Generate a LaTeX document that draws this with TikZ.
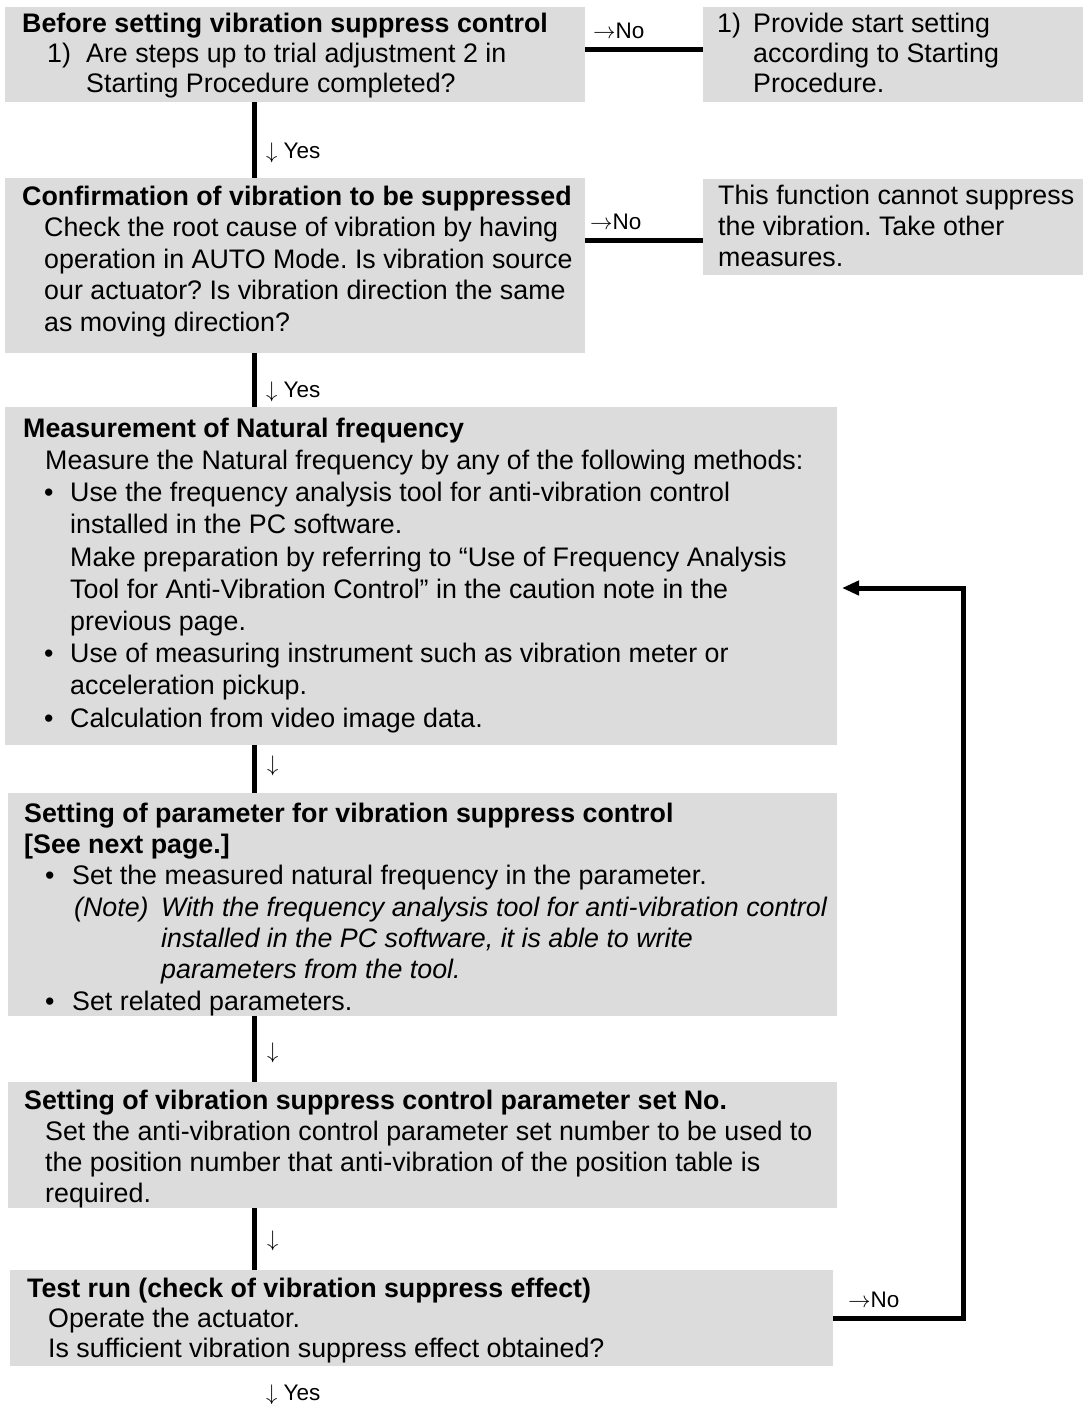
\RequirePackage{fix-cm}
\documentclass[tikz,border=0pt]{standalone}
\usepackage{fontspec}
\setmainfont{Liberation Sans}
\usetikzlibrary{arrows.meta}
\definecolor{boxgrey}{RGB}{220,220,220}
\frenchspacing

\begin{document}
\begin{tikzpicture}[x=1pt, y=-1pt,
    panel/.style={fill=boxgrey, inner sep=0pt, anchor=north west},
    txt/.style={anchor=base west, align=left, inner sep=0pt, font=\fontsize{26.8}{#1}\selectfont},
    txt/.default=31,
    tag/.style={anchor=base west, inner sep=0pt, font=\fontsize{22.5}{27}\selectfont},
    flow/.style={line width=5pt},
]
\useasboundingbox (0,0) rectangle (1083,1404);

% grey panels
\node[panel, minimum width=580pt, minimum height=95pt] (q1) at (5,7) {};
\node[panel, minimum width=380pt, minimum height=95pt] (n1) at (703,7) {};
\node[panel, minimum width=580pt, minimum height=175pt] (q2) at (5,178) {};
\node[panel, minimum width=380pt, minimum height=96pt] (n2) at (703,179) {};
\node[panel, minimum width=832pt, minimum height=338pt] (m3) at (5,407) {};
\node[panel, minimum width=829pt, minimum height=223pt] (p4) at (8,793) {};
\node[panel, minimum width=829pt, minimum height=126pt] (s5) at (8,1082) {};
\node[panel, minimum width=823pt, minimum height=96pt] (t6) at (10,1270) {};

% texts (placed at the baseline of their last line)
\node[txt=30] (q1txt) at (22,93) {\textbf{Before setting vibration suppress control}\\
  \hspace*{25pt}\makebox[39pt][l]{1)}Are steps up to trial adjustment 2 in\\
  \hspace*{64pt}Starting Procedure completed?};
\node[txt=30] (n1txt) at (717,93) {\makebox[36pt][l]{1)}Provide start setting\\
  \hspace*{36pt}according to Starting\\
  \hspace*{36pt}Procedure.};
\node[txt=31.5] (q2txt) at (22,331) {\textbf{Confirmation of vibration to be suppressed}\\
  \hspace*{22pt}Check the root cause of vibration by having\\
  \hspace*{22pt}operation in AUTO Mode. Is vibration source\\
  \hspace*{22pt}our actuator? Is vibration direction the same\\
  \hspace*{22pt}as moving direction?};
\node[txt=31] (n2txt) at (718,267) {This function cannot suppress\\
  the vibration. Take other\\
  measures.};
\node[txt=32.2] (m3txt) at (23,727) {\textbf{Measurement of Natural frequency}\\
  \hspace*{22pt}Measure the Natural frequency by any of the following methods:\\
  \hspace*{21pt}\makebox[26pt][l]{\textbullet}Use the frequency analysis tool for anti-vibration control\\
  \hspace*{47pt}installed in the PC software.\\
  \hspace*{47pt}Make preparation by referring to “Use of Frequency Analysis\\
  \hspace*{47pt}Tool for Anti-Vibration Control” in the caution note in the\\
  \hspace*{47pt}previous page.\\
  \hspace*{21pt}\makebox[26pt][l]{\textbullet}Use of measuring instrument such as vibration meter or\\
  \hspace*{47pt}acceleration pickup.\\
  \hspace*{21pt}\makebox[26pt][l]{\textbullet}Calculation from video image data.};
\node[txt=31.3] (p4txt) at (24,1010) {\textbf{Setting of parameter for vibration suppress control}\\
  \textbf{[See next page.]}\\
  \hspace*{21pt}\makebox[27pt][l]{\textbullet}Set the measured natural frequency in the parameter.\\
  \hspace*{50pt}\makebox[87pt][l]{\textit{(Note)}}\textit{With the frequency analysis tool for anti-vibration control}\\
  \hspace*{137pt}\textit{installed in the PC software, it is able to write}\\
  \hspace*{137pt}\textit{parameters from the tool.}\\
  \hspace*{21pt}\makebox[27pt][l]{\textbullet}Set related parameters.};
\node[txt=30.7] (s5txt) at (24,1202) {\textbf{Setting of vibration suppress control parameter set No.}\\
  \hspace*{21pt}Set the anti-vibration control parameter set number to be used to\\
  \hspace*{21pt}the position number that anti-vibration of the position table is\\
  \hspace*{21pt}required.};
\node[txt=30] (t6txt) at (27,1357) {\textbf{Test run (check of vibration suppress effect)}\\
  \hspace*{21pt}Operate the actuator.\\
  \hspace*{21pt}Is sufficient vibration suppress effect obtained?};

% connectors
\coordinate (spine) at (254.5,0);
\draw[flow] (q1.south -| spine) -- (q2.north -| spine);
\draw[flow] (q2.south -| spine) -- (m3.north -| spine);
\draw[flow] (m3.south -| spine) -- (p4.north -| spine);
\draw[flow] (p4.south -| spine) -- (s5.north -| spine);
\draw[flow] (s5.south -| spine) -- (t6.north -| spine);
\draw[flow] (q1.east |- 0,50) -- (n1.west |- 0,50);
\draw[flow] (q2.east |- 0,241) -- (n2.west |- 0,241);
\coordinate (loop) at (963,588);
\coordinate (tip) at (842,588);
\draw[flow, -{Triangle[length=17pt, width=14pt]}] (t6.east) -| (loop) -- (tip);

% yes / no labels
\node[tag] (no1) at (593,39) {$\rightarrow$No};
\node[tag] (no2) at (590,230) {$\rightarrow$No};
\node[tag] (no3) at (848,1307) {$\rightarrow$No};
\node[tag] (yes1) at (266,159) {$\downarrow$ Yes};
\node[tag] (yes2) at (266,397) {$\downarrow$ Yes};
\node[tag] (dn3) at (267,771) {$\downarrow$};
\node[tag] (dn4) at (267,1058) {$\downarrow$};
\node[tag] (dn5) at (267,1246) {$\downarrow$};
\node[tag] (yes6) at (266,1400) {$\downarrow$ Yes};
\end{tikzpicture}
\end{document}
